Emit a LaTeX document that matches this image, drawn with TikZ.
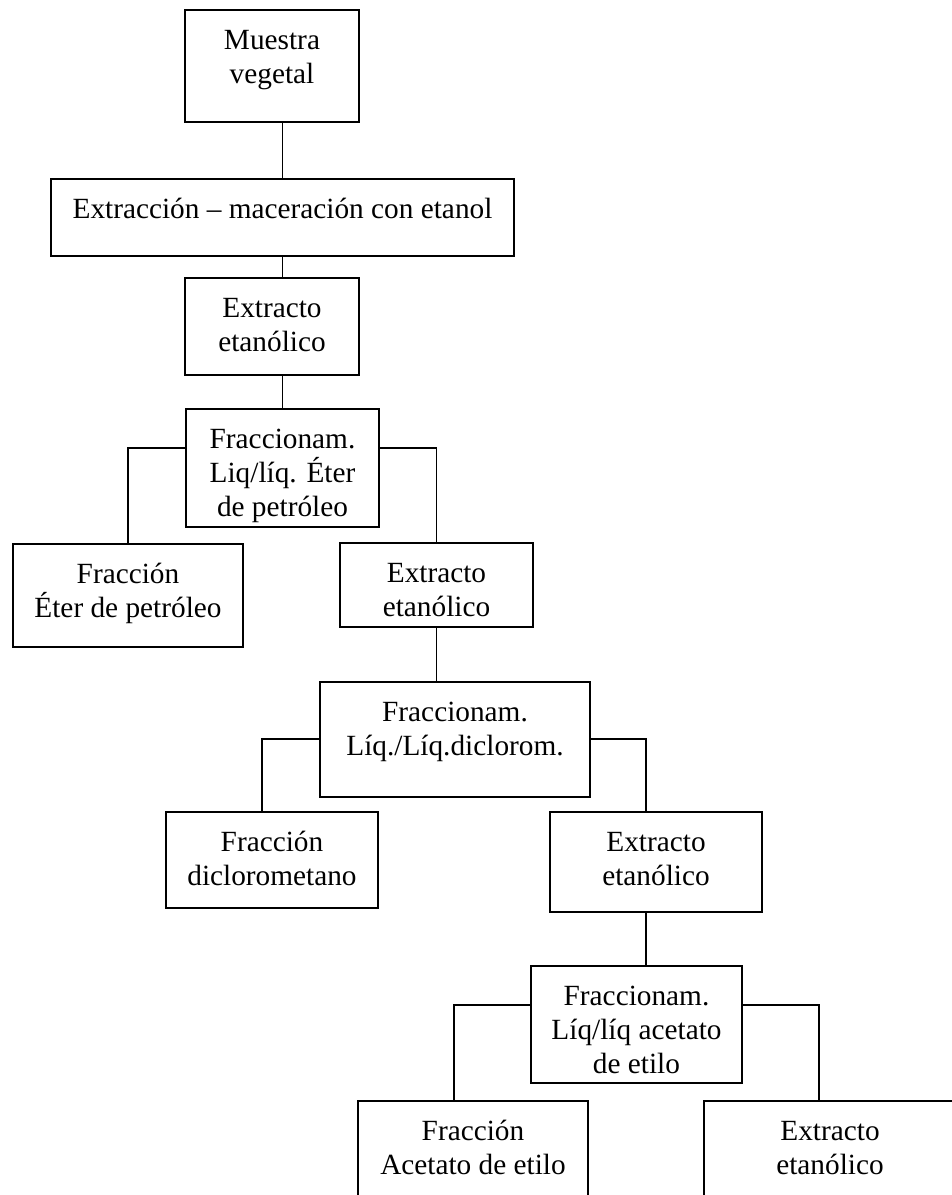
\documentclass[tikz,border=0pt]{standalone}
\usepackage{fontspec}
\setmainfont{Liberation Serif}
\usetikzlibrary{calc}
\newcommand{\bxtxt}[3]{\parbox[c][#2pt][t]{#1pt}{\fontsize{29.3}{34}\selectfont\centering\rule{0pt}{39pt}#3}}
\tikzset{
  bx/.style={draw=black, line width=1.8pt, inner sep=0pt, outer sep=0pt, anchor=north west},
  ln/.style={draw=black, line width=1.3pt},
}
\begin{document}
\begin{tikzpicture}[x=1pt,y=-1pt]
\useasboundingbox (0,0) rectangle (952,1195);
\fill[white] (0,0) rectangle (952,1195);
\clip (0,0) rectangle (952,1195);
% boxes
\node[bx] (b1) at (185,10) {\bxtxt{174}{112}{Muestra\\vegetal}};
\node[bx] (b2) at (51,179) {\bxtxt{463}{77}{Extracción – maceración con etanol}};
\node[bx] (b3) at (185,278) {\bxtxt{174}{97}{Extracto\\etanólico}};
\node[bx] (b4) at (186,409) {\bxtxt{193}{118}{Fraccionam.\\Liq/líq. Éter\\de petróleo}};
\node[bx] (b5) at (13,544) {\bxtxt{230}{103}{Fracción\\Éter de petróleo}};
\node[bx] (b6) at (340,543) {\bxtxt{193}{84}{Extracto\\etanólico}};
\node[bx] (b7) at (320,682) {\bxtxt{270}{115}{Fraccionam.\\Líq./Líq.diclorom.}};
\node[bx] (b8) at (166,812) {\bxtxt{212}{96}{Fracción\\diclorometano}};
\node[bx] (b9) at (550,812) {\bxtxt{212}{100}{Extracto\\etanólico}};
\node[bx] (b10) at (531,966) {\bxtxt{211}{117}{Fraccionam.\\Líq/líq acetato\\de etilo}};
\node[bx] (b11) at (358,1101) {\bxtxt{230}{104}{Fracción\\Acetato de etilo}};
\node[bx] (b12) at (704,1101) {\bxtxt{252}{104}{Extracto\\etanólico}};
% junction coordinates
\coordinate (j4) at ($(b4.north west)+(0,39)$);
\coordinate (k4) at ($(b4.north east)+(0,39)$);
\coordinate (j7) at ($(b7.north west)+(0,57)$);
\coordinate (k7) at ($(b7.north east)+(0,57)$);
\coordinate (t8) at ($(b8.north west)+(96,0)$);
\coordinate (t9) at ($(b9.north west)+(96,0)$);
\coordinate (s9) at ($(b9.south west)+(96,0)$);
\coordinate (j10) at ($(b10.north west)+(0,39)$);
\coordinate (k10) at ($(b10.north east)+(0,39)$);
\coordinate (t11) at ($(b11.north west)+(96,0)$);
\coordinate (t12) at ($(b12.north west)+(115,0)$);
% connectors
\draw[ln] (b1.south -| b2.north) -- (b2.north);
\draw[ln] (b2.south) -- (b2.south |- b3.north);
\draw[ln] (b3.south -| b4.north) -- (b4.north);
\draw[ln] (j4) -| (b5.north);
\draw[ln] (k4) -| (b6.north);
\draw[ln] (b6.south) -- (b6.south |- b7.north);
\draw[ln] (j7) -| (t8);
\draw[ln] (k7) -| (t9);
\draw[ln] (s9) -- (s9 |- b10.north);
\draw[ln] (j10) -| (t11);
\draw[ln] (k10) -| (t12);
\end{tikzpicture}
\end{document}
